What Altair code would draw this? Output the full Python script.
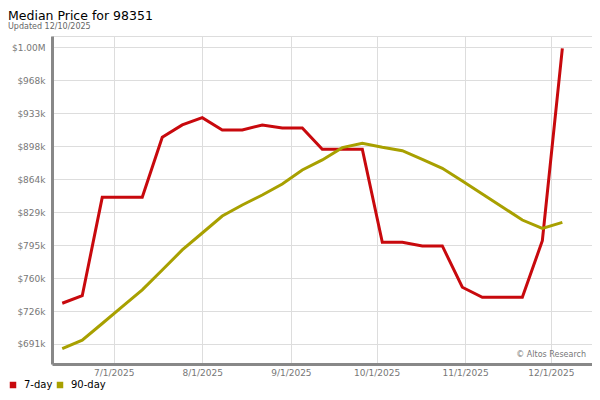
import altair as alt
import pandas as pd

dates = ["2025-06-13", "2025-06-20", "2025-06-27", "2025-07-04", "2025-07-11", "2025-07-18",
         "2025-07-25", "2025-08-01", "2025-08-08", "2025-08-15", "2025-08-22", "2025-08-29",
         "2025-09-05", "2025-09-12", "2025-09-19", "2025-09-26", "2025-10-03", "2025-10-10",
         "2025-10-17", "2025-10-24", "2025-10-31", "2025-11-07", "2025-11-14", "2025-11-21",
         "2025-11-28", "2025-12-05"]
seven_day = [733700, 741600, 844800, 844800, 844800, 907800, 920700, 928300, 915400, 915400,
             920700, 917500, 917500, 895200, 895200, 895200, 797600, 797600, 793800, 793800,
             750500, 740000, 740000, 740000, 799300, 1001100]
ninety_day = [686100, 694900, 712500, 730100, 747800, 768600, 789600, 807400, 825200, 836800,
              847200, 858800, 873500, 884000, 896900, 901500, 897300, 893700, 884700, 875200,
              861900, 848300, 834700, 821000, 812300, 818600]
series_names = ["7-day", "90-day"]
series_colors = ["#c8090d", "#a8a000"]
y_ticks = [691000, 725570, 760140, 794710, 829280, 863850, 898420, 932990, 967560, 1002130]

rows = []
for d, a, b in zip(dates, seven_day, ninety_day):
    rows.append({"date": d + "T00:00:00", "series": "7-day", "price": a})
    rows.append({"date": d + "T00:00:00", "series": "90-day", "price": b})
df = pd.DataFrame(rows)

month_ticks = [alt.DateTime(year=2025, month=m, date=1) for m in range(7, 13)]

lines = alt.Chart(df).mark_line(strokeWidth=3).encode(
    x=alt.X("date:T",
            scale=alt.Scale(domain=[alt.DateTime(year=2025, month=6, date=9, hours=10),
                                    alt.DateTime(year=2025, month=12, date=15, hours=9)]),
            axis=alt.Axis(values=month_ticks, format="%-m/%-d/%Y", title=None,
                          ticks=False, labelPadding=4, labelFontSize=9, labelColor="#777777",
                          domainColor="#888888", domainWidth=3, gridColor="#dddddd",
                          labelFont="DejaVu Sans")),
    y=alt.Y("price:Q",
            scale=alt.Scale(domain=[670000, 1014000], nice=False, zero=False),
            axis=alt.Axis(values=y_ticks, title=None, ticks=False, labelPadding=7,
                          labelExpr="datum.value >= 1000000 ? '$' + format(datum.value/1000000, '.2f') + 'M' : '$' + format(datum.value/1000, '.0f') + 'k'",
                          labelFontSize=9, labelColor="#777777", domainColor="#888888",
                          domainWidth=3, gridColor="#dddddd", labelFont="DejaVu Sans")),
    color=alt.Color("series:N",
                    scale=alt.Scale(domain=series_names, range=series_colors),
                    legend=alt.Legend(orient="none", legendX=-44, legendY=344,
                                      direction="horizontal", title=None,
                                      symbolType="square", symbolSize=4,
                                      symbolStrokeWidth=4.5, labelFontSize=10,
                                      labelColor="#000000", labelFont="DejaVu Sans",
                                      columnPadding=-3, labelOffset=6)),
)

mark_df = pd.DataFrame({"t": ["\u00a9 Altos Research"]})
watermark = alt.Chart(mark_df).mark_text(align="right", baseline="alphabetic", fontSize=8,
                                         color="#777777", font="DejaVu Sans").encode(
    text="t:N", x=alt.value(534), y=alt.value(321))

chart = alt.layer(lines, watermark).properties(
    width=540, height=328,
    autosize=alt.AutoSizeParams(type="none"),
    padding={"left": 44, "top": 28, "right": 0, "bottom": 28},
    title=alt.TitleParams(text="Median Price for 98351", subtitle="Updated 12/10/2025",
                          anchor="start", frame="group", dx=-44, offset=5,
                          fontSize=12.5, fontWeight="normal", color="#000000",
                          font="DejaVu Sans", subtitleFont="DejaVu Sans",
                          subtitleFontSize=8, subtitleColor="#666666", subtitlePadding=1),
).configure_view(stroke="#dddddd").configure(background="white")

chart.save("out.html", embed_options={"renderer": "svg", "actions": False})
